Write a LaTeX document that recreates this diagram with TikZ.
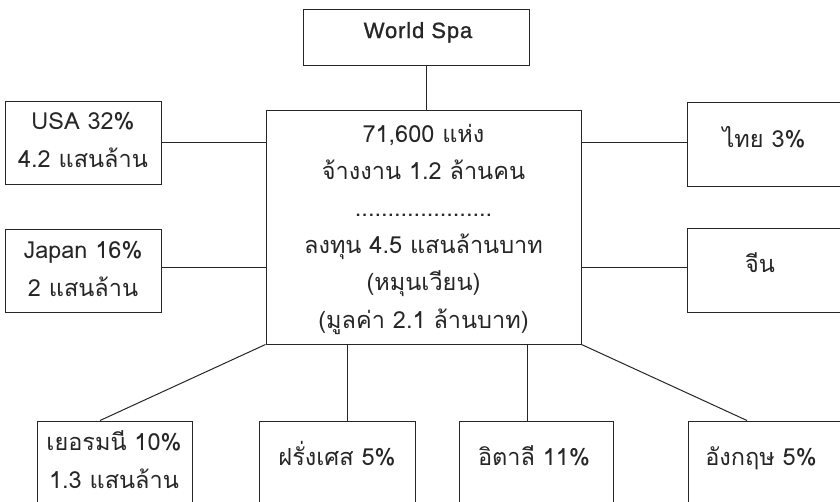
\documentclass[tikz,border=0pt]{standalone}
\usepackage{fontspec}
\setmainfont[Script=Thai]{Loma}
\newfontfamily\titlefont[LetterSpace=4,FakeBold=1.2]{Liberation Sans}
\begin{document}
\begin{tikzpicture}[x=1pt,y=-1pt,
  box/.style={draw=black!85,line width=1pt,inner sep=0pt,rectangle},
  conn/.style={draw=black!85,line width=1pt},
  txt/.style={inner sep=0pt,anchor=base,align=center,font=\fontsize{23.5}{37.2}\selectfont,text=black!85},
  title/.style={txt,font=\fontsize{22}{30}\selectfont\titlefont}]
\path[use as bounding box] (0,0) rectangle (840,501);
\clip (0,0) rectangle (840,501);
% boxes
\node[box,minimum width=226pt,minimum height=56pt] (ws) at (416,37) {};
\node[box,minimum width=315pt,minimum height=234pt] (c) at (423.5,227) {};
\node[box,minimum width=156pt,minimum height=83pt] (usa) at (83,142.5) {};
\node[box,minimum width=156pt,minimum height=83pt] (jp) at (83,270.5) {};
\node[box,minimum width=158pt,minimum height=84pt] (th) at (766,144) {};
\node[box,minimum width=158pt,minimum height=84pt] (cn) at (766,270) {};
\node[box,minimum width=155pt,minimum height=100pt] (de) at (114.5,471) {};
\node[box,minimum width=156pt,minimum height=100pt] (fr) at (337,471) {};
\node[box,minimum width=154pt,minimum height=100pt] (it) at (536,471) {};
\node[box,minimum width=158pt,minimum height=100pt] (uk) at (767,471) {};
% texts (anchor base = baseline of the last line)
\node[title] (tws) at (418,38) {World Spa};
\node[txt] (tusa) at (83,167) {USA 32\%\\4.2 แสนล้าน};
\node[txt] (tjp) at (83,296) {Japan 16\%\\2 แสนล้าน};
\node[txt] (tth) at (764,147) {ไทย 3\%};
\node[txt] (tcn) at (760,272) {จีน};
\node[txt] (tc) at (423.5,328) {71,600 แห่ง\\จ้างงาน 1.2 ล้านคน\\.....................\\ลงทุน 4.5 แสนล้านบาท\\(หมุนเวียน)\\(มูลค่า 2.1 ล้านบาท)};
\node[txt] (tde) at (114,488) {เยอรมนี 10\%\\1.3 แสนล้าน};
\node[txt] (tfr) at (337,465) {ฝรั่งเศส 5\%};
\node[txt] (tit) at (534,465) {อิตาลี 11\%};
\node[txt] (tuk) at (761,465) {อังกฤษ 5\%};
% connectors
\coordinate (ta) at (426,0);
\coordinate (ya) at (0,142);
\coordinate (yb) at (0,267);
\coordinate (xa) at (347,0);
\coordinate (xb) at (527,0);
\coordinate (da) at (100,0);
\coordinate (db) at (747,0);
\draw[conn] (ws.south -| ta) -- (c.north -| ta);
\draw[conn] (usa.east |- ya) -- (c.west |- ya);
\draw[conn] (jp.east |- yb) -- (c.west |- yb);
\draw[conn] (c.east |- ya) -- (th.west |- ya);
\draw[conn] (c.east |- yb) -- (cn.west |- yb);
\draw[conn] (c.south -| xa) -- (fr.north -| xa);
\draw[conn] (c.south -| xb) -- (it.north -| xb);
\draw[conn] (c.south west) -- (de.north -| da);
\draw[conn] (c.south east) -- (uk.north -| db);
\end{tikzpicture}
\end{document}
